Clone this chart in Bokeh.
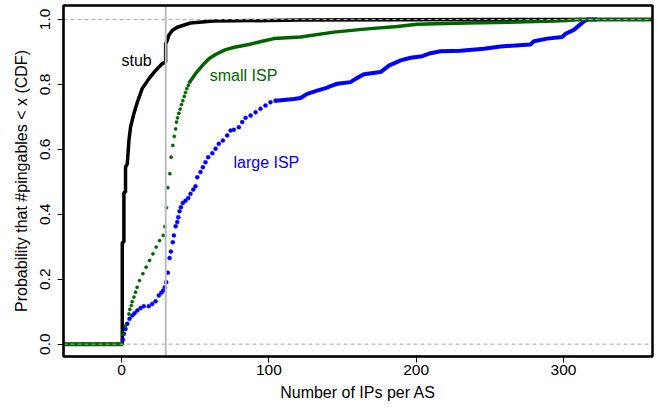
from bokeh.plotting import figure
from bokeh.models import Range1d, FixedTicker, PrintfTickFormatter, Span, Label
from bokeh.embed import file_html
from bokeh.resources import INLINE

# ---- data (x = number of IPs per AS, y = CDF) ----
x_ticks = [0, 100, 200, 300]
y_ticks = [0.0, 0.2, 0.4, 0.6, 0.8, 1.0]

stub_x = [-40, 0.5, 0.5, 1.6, 1.6, 2.7, 2.7, 3.9, 5.0, 6.1, 8.3, 10.7, 14.0, 18.5, 23.1,
          27.6, 29.4, 29.9, 29.9, 31.0, 32.1, 34.4, 37.8, 46.8, 62.4, 121.5, 250, 361]
stub_y = [0, 0, 0.314, 0.314, 0.468, 0.468, 0.545, 0.555, 0.627, 0.668, 0.709, 0.745, 0.787,
          0.817, 0.843, 0.864, 0.868, 0.868, 0.925, 0.935, 0.951, 0.966, 0.976, 0.989, 0.995,
          0.998, 1.0, 1.0]

small_low_x = [-40, 0.9]
small_low_y = [0, 0]
small_dot_x = [0.9, 2.7, 5.0, 5.6, 6.6, 7.2, 8.4, 9.5, 10.6, 12.2, 14.5, 16.7, 19.0, 21.3,
               23.5, 25.8, 28.3, 29.4, 30.5, 31.4, 32.8, 33.7, 34.8, 35.8, 36.7, 37.3, 38.0,
               38.9, 39.8, 40.7, 41.6, 42.6, 43.4, 44.3, 45.3, 46.2]
small_dot_y = [0.030, 0.057, 0.093, 0.107, 0.119, 0.131, 0.145, 0.160, 0.175, 0.196, 0.217,
               0.237, 0.258, 0.278, 0.299, 0.319, 0.335, 0.362, 0.42, 0.482, 0.525, 0.576,
               0.612, 0.640, 0.663, 0.684, 0.697, 0.711, 0.724, 0.738, 0.750, 0.763, 0.775,
               0.787, 0.797, 0.807]
small_line_x = [46.2, 50.2, 54.8, 59.3, 63.8, 70.6, 77.4, 86.4, 95.5, 103.4, 121.5, 144.1,
                166.8, 187.1, 200.7, 234.6, 268.6, 293.4, 302.5, 309.3, 361]
small_line_y = [0.807, 0.833, 0.858, 0.879, 0.892, 0.907, 0.915, 0.923, 0.933, 0.941, 0.946,
                0.961, 0.971, 0.978, 0.985, 0.989, 0.992, 0.995, 0.997, 1.0, 1.0]

large_dot_x = [0.9, 1.6, 2.7, 3.9, 5.4, 7.3, 8.8, 10.7, 12.9, 15.1, 18.5, 20.8, 23.1, 25.3,
               27.0, 28.3, 29.4, 30.3, 31.4, 32.6, 33.5, 34.8, 35.5, 36.7, 37.8, 38.5, 39.4,
               40.3, 41.6, 43.4, 45.3, 46.8, 48.7, 50.2, 51.4, 53.6, 55.2, 57.0, 58.8, 61.6,
               63.8, 66.0, 68.8, 71.7, 74.0, 76.2, 79.6, 81.9, 84.2, 87.6, 91.0, 94.3, 97.7,
               101.1, 104.5]
large_dot_y = [0.014, 0.032, 0.047, 0.063, 0.078, 0.088, 0.095, 0.104, 0.111, 0.117, 0.117,
               0.124, 0.132, 0.150, 0.158, 0.165, 0.175, 0.191, 0.22, 0.265, 0.285, 0.314,
               0.335, 0.363, 0.376, 0.391, 0.409, 0.422, 0.435, 0.442, 0.450, 0.463, 0.476,
               0.486, 0.514, 0.530, 0.545, 0.560, 0.576, 0.588, 0.602, 0.617, 0.627, 0.643,
               0.658, 0.660, 0.668, 0.684, 0.697, 0.704, 0.714, 0.725, 0.735, 0.745, 0.750]
large_line_x = [104.5, 117, 121.5, 126.0, 132.8, 139.6, 141.9, 146.4, 155.4, 158.8, 164.5,
                175.8, 181.5, 189.4, 196.2, 204.1, 209.7, 216.5, 230.1, 245.9, 257.2, 277.6,
                279.9, 288.9, 299.1, 301.4, 307.0, 310.4, 313.8, 316.1, 322.9]
large_line_y = [0.750, 0.755, 0.758, 0.771, 0.781, 0.790, 0.795, 0.802, 0.807, 0.817, 0.831,
                0.838, 0.858, 0.874, 0.882, 0.887, 0.896, 0.902, 0.904, 0.910, 0.917, 0.923,
                0.933, 0.941, 0.946, 0.956, 0.968, 0.981, 0.994, 1.0, 1.0]

FONT = "Liberation Sans"
GREEN = "#006400"
BLUE = "#0000FF"
GREY = "#BEBEBE"

X0, X1 = -39.4, 360.4
Y0, Y1 = -0.038, 1.043

p = figure(frame_width=589, frame_height=351,
           x_range=Range1d(X0, X1), y_range=Range1d(Y0, Y1),
           output_backend="svg", toolbar_location=None,
           min_border_left=63, min_border_right=5, min_border_top=5, min_border_bottom=52,
           background_fill_color="white", border_fill_color="white")

p.xgrid.visible = False
p.ygrid.visible = False
p.outline_line_color = "black"
p.outline_line_alpha = 1.0
p.outline_line_width = 1

# series
p.line(stub_x, stub_y, line_color="black", line_width=3.5)
p.line(large_line_x, large_line_y, line_color=BLUE, line_width=4)
p.scatter(large_dot_x, large_dot_y, size=4, fill_color=BLUE, line_color=BLUE, line_width=0.5)
p.line(small_low_x, small_low_y, line_color=GREEN, line_width=4)
p.scatter(small_dot_x, small_dot_y, size=3.2, fill_color=GREEN, line_color=GREEN, line_width=0.5)
p.line(small_line_x, small_line_y, line_color=GREEN, line_width=3.5)

# reference lines
p.add_layout(Span(location=30, dimension="height", line_color=GREY, line_width=2))
for yv in (0.0, 1.0):
    p.add_layout(Span(location=yv, dimension="width", line_color="#AAAAAA",
                      line_width=1, line_dash="4 3"))

# plot box drawn as an unfilled quad on the range limits
p.quad(left=[X0], right=[X1], bottom=[Y0], top=[Y1], fill_alpha=0,
       line_color="black", line_width=2.5, level="overlay")

# labels
p.add_layout(Label(x=10.2, y=0.875, text="stub", text_color="black", text_align="center",
                   text_baseline="middle", text_font=FONT, text_font_size="16px"))
p.add_layout(Label(x=82.8, y=0.828, text="small ISP", text_color=GREEN, text_align="center",
                   text_baseline="middle", text_font=FONT, text_font_size="16px"))
p.add_layout(Label(x=98.3, y=0.558, text="large ISP", text_color=BLUE, text_align="center",
                   text_baseline="middle", text_font=FONT, text_font_size="16px"))

# axes
for ax in (p.xaxis[0], p.yaxis[0]):
    ax.axis_line_color = "black"
    ax.axis_line_width = 1.5
    ax.major_tick_line_color = "black"
    ax.major_tick_out = 6
    ax.major_tick_in = 0
    ax.minor_tick_line_color = None
    ax.major_label_text_font = FONT
    ax.major_label_text_font_size = "15.5px"
    ax.major_label_text_color = "black"
    ax.axis_label_text_font = FONT
    ax.axis_label_text_font_size = "16px"
    ax.axis_label_text_font_style = "normal"
    ax.axis_label_text_color = "black"

p.xaxis.ticker = FixedTicker(ticks=x_ticks)
p.yaxis.ticker = FixedTicker(ticks=y_ticks)
p.yaxis.formatter = PrintfTickFormatter(format="%.1f")
p.yaxis.major_label_orientation = "vertical"
p.xaxis.axis_label = "Number of IPs per AS"
p.yaxis.axis_label = "Probability that #pingables < x (CDF)"
p.xaxis.major_label_standoff = 2
p.xaxis.axis_label_standoff = 6
p.yaxis.major_label_standoff = 7
p.yaxis.axis_label_standoff = 8

open("out.html", "w").write(file_html(p, INLINE))
